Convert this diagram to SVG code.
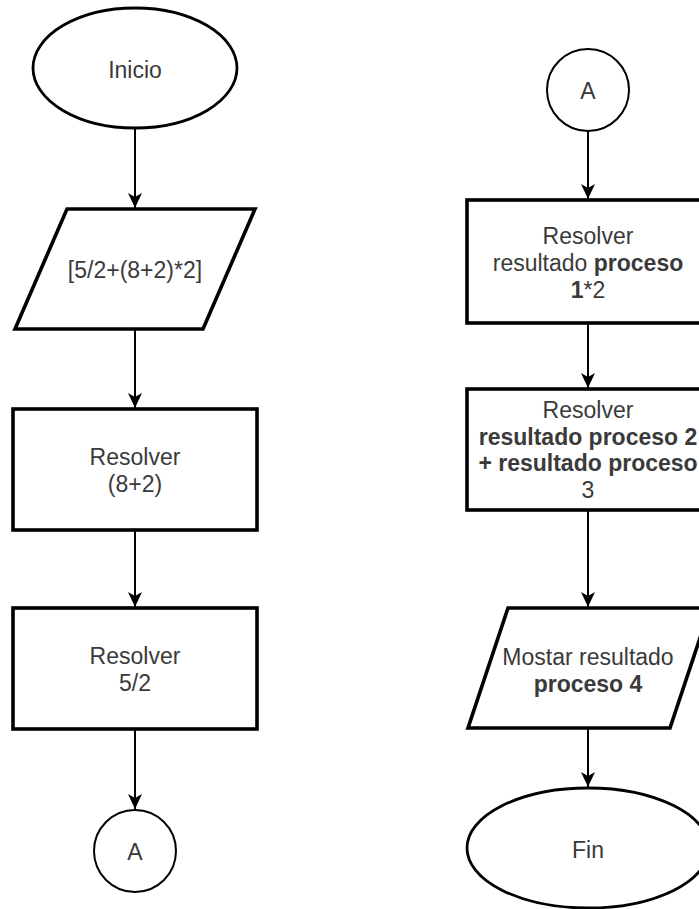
<svg xmlns="http://www.w3.org/2000/svg" width="699" height="909" viewBox="0 0 699 909">
  <style>
    .shape { fill: #ffffff; stroke: #000000; }
    .thick { stroke-width: 3.6; }
    .mid { stroke-width: 2.8; }
    .thin { stroke-width: 2; }
    .lbl { font-family: "Liberation Sans", Arial, sans-serif; font-size: 23px; fill: #3a3a3a; text-anchor: middle; dominant-baseline: central; }
    .b { font-weight: bold; }
    .edge { fill: none; stroke: #000000; stroke-width: 2; }
  </style>
  <defs>
    <!-- classic block arrowhead, tip at the line end -->
    <marker id="arrow" markerUnits="userSpaceOnUse" markerWidth="18" markerHeight="16" viewBox="-16 -8 18 16" refX="0" refY="0" orient="auto">
      <path d="M0,0 L-15,-7 L-11,0 L-15,7 Z" fill="#000000"/>
    </marker>
  </defs>
  <rect width="699" height="909" fill="#ffffff"/>

  <!-- connectors -->
  <g id="connectors">
    <line class="edge" x1="135" y1="128" x2="135" y2="208" marker-end="url(#arrow)"/>
    <line class="edge" x1="135" y1="329" x2="135" y2="408" marker-end="url(#arrow)"/>
    <line class="edge" x1="135" y1="530" x2="135" y2="607" marker-end="url(#arrow)"/>
    <line class="edge" x1="135" y1="729" x2="135" y2="809" marker-end="url(#arrow)"/>
    <line class="edge" x1="588" y1="131" x2="588" y2="199" marker-end="url(#arrow)"/>
    <line class="edge" x1="588" y1="323" x2="588" y2="388" marker-end="url(#arrow)"/>
    <line class="edge" x1="588" y1="510" x2="588" y2="607" marker-end="url(#arrow)"/>
    <line class="edge" x1="588" y1="728" x2="588" y2="787" marker-end="url(#arrow)"/>
  </g>

  <!-- left column -->
  <g id="inicio">
    <ellipse class="shape mid" cx="135" cy="68" rx="102" ry="60"/>
    <text class="lbl" x="135" y="70">Inicio</text>
  </g>
  <g id="entrada">
    <polygon class="shape thick" points="67,209 255,209 203,329 15,329"/>
    <text class="lbl" x="135" y="270">[5/2+(8+2)*2]</text>
  </g>
  <g id="resolver-suma">
    <rect class="shape thick" x="13" y="409" width="244" height="121"/>
    <text class="lbl" x="135" y="457">Resolver</text>
    <text class="lbl" x="135" y="484">(8+2)</text>
  </g>
  <g id="resolver-division">
    <rect class="shape thick" x="13" y="608" width="244" height="121"/>
    <text class="lbl" x="135" y="656">Resolver</text>
    <text class="lbl" x="135" y="683">5/2</text>
  </g>
  <g id="conector-a-salida">
    <circle class="shape thin" cx="135" cy="851" r="41"/>
    <text class="lbl" x="135" y="852">A</text>
  </g>

  <!-- right column -->
  <g id="conector-a-entrada">
    <circle class="shape thin" cx="588" cy="90" r="41"/>
    <text class="lbl" x="588" y="91">A</text>
  </g>
  <g id="resolver-producto">
    <rect class="shape thick" x="467" y="200" width="242" height="123"/>
    <text class="lbl" x="588" y="236">Resolver</text>
    <text class="lbl" x="588" y="263">resultado <tspan class="b">proceso</tspan></text>
    <text class="lbl" x="588" y="290"><tspan class="b">1</tspan>*2</text>
  </g>
  <g id="resolver-total">
    <rect class="shape thick" x="467" y="389" width="242" height="121"/>
    <text class="lbl" x="588" y="410">Resolver</text>
    <text class="lbl b" x="588" y="437">resultado proceso 2</text>
    <text class="lbl b" x="588" y="463">+ resultado proceso</text>
    <text class="lbl" x="588" y="490">3</text>
  </g>
  <g id="mostrar">
    <polygon class="shape thick" points="508,608 710,608 670,728 468,728"/>
    <text class="lbl" x="588" y="657">Mostar resultado</text>
    <text class="lbl b" x="588" y="684">proceso 4</text>
  </g>
  <g id="fin">
    <ellipse class="shape mid" cx="588" cy="848" rx="121" ry="60"/>
    <text class="lbl" x="588" y="850">Fin</text>
  </g>
</svg>
